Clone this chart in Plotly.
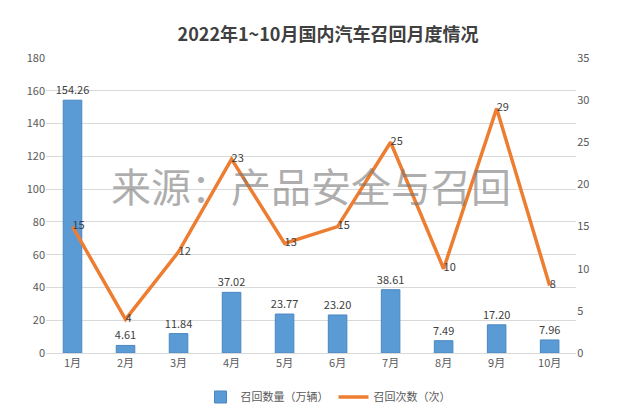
import plotly.graph_objects as go
from plotly.subplots import make_subplots

months = ["1月", "2月", "3月", "4月", "5月", "6月", "7月", "8月", "9月", "10月"]
recall_qty = [154.26, 4.61, 11.84, 37.02, 23.77, 23.20, 38.61, 7.49, 17.20, 7.96]
recall_times = [15, 4, 12, 23, 13, 15, 25, 10, 29, 8]

fig = make_subplots(specs=[[{"secondary_y": True}]])

fig.add_trace(go.Bar(x=months, y=recall_qty, name="召回数量（万辆）",
                     marker=dict(color="#5b9bd5", line=dict(color="#4a86c0", width=1)),
                     width=0.35, text=["%.2f" % v for v in recall_qty],
                     textposition="outside", constraintext="none",
                     textfont=dict(size=11, color="#404040"),
                     cliponaxis=False), secondary_y=False)
fig.add_trace(go.Scatter(x=months, y=recall_times, name="召回次数（次）", mode="lines+text",
                         line=dict(color="#ed7d31", width=3.5),
                         text=[str(v) for v in recall_times], textposition="middle right",
                         textfont=dict(size=11, color="#404040")), secondary_y=True)

fig.add_annotation(text="来源：产品安全与召回", x=0.47, y=0.57, xref="paper", yref="paper",
                   showarrow=False, font=dict(size=40, color="rgba(120,120,120,0.6)"))

fig.update_layout(
    width=640, height=415, plot_bgcolor="white", paper_bgcolor="white",
    font=dict(family="Noto Sans CJK SC", size=11, color="#595959"),
    title=dict(text="<b>2022年1~10月国内汽车召回月度情况</b>", x=0.5, y=0.95,
               font=dict(size=18, color="#404040")),
    margin=dict(l=38, r=38, t=50, b=63), bargap=0.5,
    legend=dict(orientation="h", x=0.5, xanchor="center", y=-0.1, font=dict(size=11)),
)
fig.update_xaxes(showline=True, linecolor="#d9d9d9", tickfont=dict(size=11))
fig.update_yaxes(range=[0, 180], dtick=20, gridcolor="#d9d9d9", zeroline=False,
                 secondary_y=False)
fig.update_yaxes(range=[0, 35], dtick=5, showgrid=False, zeroline=False, secondary_y=True)

fig.write_html("out.html")
